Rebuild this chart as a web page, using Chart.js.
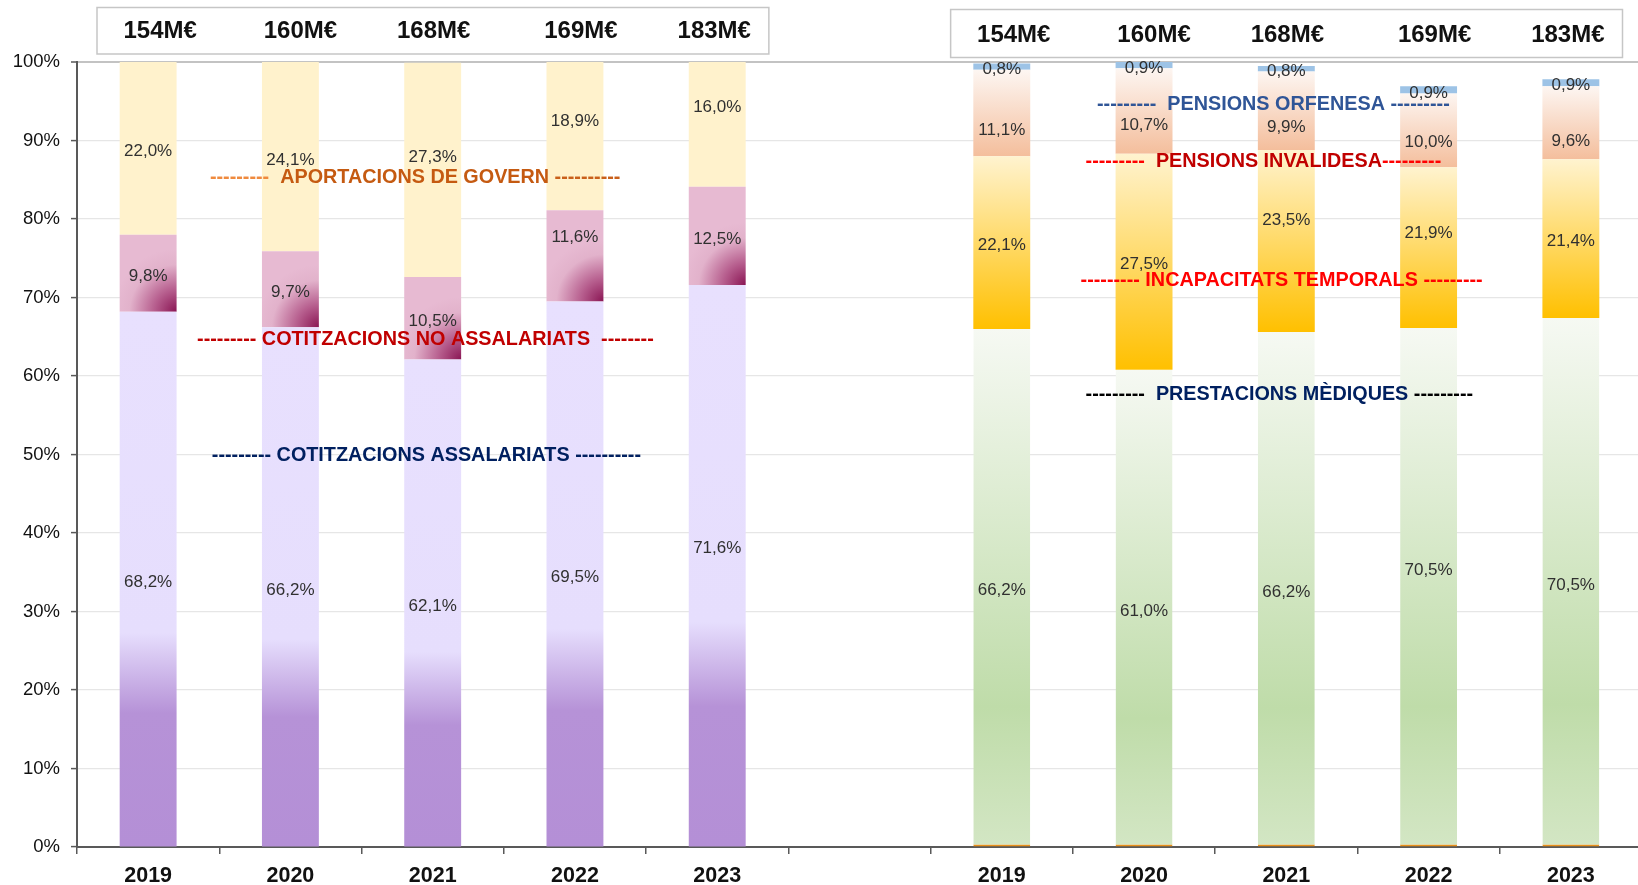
<!DOCTYPE html>
<html><head><meta charset="utf-8">
<script src="https://cdn.jsdelivr.net/npm/chart.js@4.4.1/dist/chart.umd.min.js"></script>
<style>html,body{margin:0;padding:0;background:#fff;overflow:hidden;width:1638px;height:885px;}canvas{display:block;}</style>
</head><body>
<canvas id="c" width="1642" height="885"></canvas>
<script>
const FONT = '"Liberation Sans", Arial, sans-serif';

// ---- data ----
const categories = ['2019','2020','2021','2022','2023','','2019','2020','2021','2022','2023'];
const totals = ['154M€','160M€','168M€','169M€','183M€'];
const yTickValues = [0,10,20,30,40,50,60,70,80,90,100];

// left group (ingressos)
const cotitzacionsAssalariats   = [68.2, 66.2, 62.1, 69.5, 71.6];
const cotitzacionsNoAssalariats = [9.8, 9.7, 10.5, 11.6, 12.5];
const aportacionsGovern         = [22.0, 24.1, 27.3, 18.9, 16.0];

// right group (despeses) - bar heights as drawn
const prestacionsMediques   = [66.0, 60.8, 65.6, 66.1, 67.4];
const incapacitatsTemporals = [22.0, 27.5, 23.2, 20.5, 20.2];
const pensionsInvalidesa    = [11.0, 10.9, 10.0, 9.4, 9.3];
const pensionsOrfenesa      = [0.8, 0.8, 0.7, 0.9, 0.9];

// right group - printed labels
const labelsMediques     = ['66,2%','61,0%','66,2%','70,5%','70,5%'];
const labelsIncapacitats = ['22,1%','27,5%','23,5%','21,9%','21,4%'];
const labelsInvalidesa   = ['11,1%','10,7%','9,9%','10,0%','9,6%'];
const labelsOrfenesa     = ['0,8%','0,9%','0,8%','0,9%','0,9%'];

const seriesNames = ['COTITZACIONS ASSALARIATS','COTITZACIONS NO ASSALARIATS','APORTACIONS DE GOVERN',
  'PRESTACIONS MÈDIQUES','INCAPACITATS TEMPORALS','PENSIONS INVALIDESA','PENSIONS ORFENESA'];

// ---- layout / style (pixels) ----
const labelNudge = [
  [0, 0, 0, 0, -20],
  [0, 0, 0, -22, 0],
  [0, 1, -16, -18, -20],
  [0, 0, 0, -20, 0],
  [0, 0, -24, -17, 0],
  [0, -3, 0, -5, 1],
  [0, 0, 0, 0, 0]
];
const totalOffsets = [12, 10, 1, 6, -3];

// ---- helpers ----
const pad = n => Array(n).fill(null);
const leftData = a => [...a, ...pad(6)];
const rightData = a => [...pad(6), ...a];
const fmt = v => v.toFixed(1).replace('.', ',') + '%';

function segBounds(ctx) {
  const chart = ctx.chart, ds = chart.data.datasets, i = ctx.dataIndex, di = ctx.datasetIndex;
  let base = 0;
  for (let k = 0; k < di; k++) { const v = ds[k].data[i]; if (v != null) base += v; }
  const v = ds[di].data[i] || 0;
  const ys = chart.scales.y, xs = chart.scales.x;
  const step = xs.getPixelForValue(1) - xs.getPixelForValue(0);
  const cx = xs.getPixelForValue(i);
  return { yb: ys.getPixelForValue(base), yt: ys.getPixelForValue(base + v), xl: cx - step * 0.2, xr: cx + step * 0.2 };
}
function linear(stops, fallback) {
  return ctx => {
    if (ctx.type !== 'data' || !ctx.chart.chartArea) return fallback;
    const b = segBounds(ctx);
    if (!isFinite(b.yb) || !isFinite(b.yt) || b.yb === b.yt) return fallback;
    const g = ctx.chart.ctx.createLinearGradient(0, b.yb, 0, b.yt);
    stops.forEach(([o, c]) => g.addColorStop(o, c));
    return g;
  };
}
function radialCorner(stops, fallback) {
  return ctx => {
    if (ctx.type !== 'data' || !ctx.chart.chartArea) return fallback;
    const b = segBounds(ctx);
    if (!isFinite(b.yb) || !isFinite(b.xr)) return fallback;
    const r = (b.xr - b.xl) * 1.1;
    const g = ctx.chart.ctx.createRadialGradient(b.xr, b.yb, 0, b.xr, b.yb, r);
    stops.forEach(([o, c]) => g.addColorStop(o, c));
    return g;
  };
}

const datasets = [
  { label: seriesNames[0], data: leftData(cotitzacionsAssalariats), valueLabels: leftData(cotitzacionsAssalariats.map(fmt)),
    backgroundColor: linear([[0,'#b48fd6'],[0.25,'#b692d7'],[0.40,'#e6defd'],[1,'#e8e0fe']], '#e8e0fe') },
  { label: seriesNames[1], data: leftData(cotitzacionsNoAssalariats), valueLabels: leftData(cotitzacionsNoAssalariats.map(fmt)),
    backgroundColor: radialCorner([[0,'#8a1654'],[0.35,'#b65d8d'],[0.75,'#e2b2cb'],[1,'#e7bad2']], '#e7bad2') },
  { label: seriesNames[2], data: leftData(aportacionsGovern), valueLabels: leftData(aportacionsGovern.map(fmt)),
    backgroundColor: '#fff2cc' },
  { label: seriesNames[3], data: rightData(prestacionsMediques), valueLabels: rightData(labelsMediques),
    backgroundColor: linear([[0,'#d3e6c4'],[0.27,'#bfdca9'],[1,'#f6f9f3']], '#d3e6c4'),
    borderColor: '#e8901a', borderWidth: { top: 0, left: 0, right: 0, bottom: 2 }, borderSkipped: false },
  { label: seriesNames[4], data: rightData(incapacitatsTemporals), valueLabels: rightData(labelsIncapacitats),
    backgroundColor: linear([[0,'#ffc000'],[1,'#fff3cf']], '#ffd966') },
  { label: seriesNames[5], data: rightData(pensionsInvalidesa), valueLabels: rightData(labelsInvalidesa), labelShift: 14,
    backgroundColor: linear([[0,'#f4be9c'],[1,'#fdf6f2']], '#f8d9c6') },
  { label: seriesNames[6], data: rightData(pensionsOrfenesa), valueLabels: rightData(labelsOrfenesa), labelShift: 0,
    backgroundColor: '#9dc3e6' }
];
datasets.forEach(d => { d.stack = 's'; });

// annotation layout: [series index, category position, y value, left dashes, gap left, gap right, right dashes, dash colour L, text colour, dash colour R]
const noteLayout = [
  [2, 1.877, 85.6, 9, '  ', ' ', 10, '#ef8a3e', '#c55a11', '#c9601a'],
  [1, 1.949, 64.9, 9, ' ', '  ', 8, '#c00000', '#c00000', '#c00000'],
  [0, 1.956, 50.1, 9, ' ', ' ', 10, '#002060', '#002060', '#002060'],
  [6, 7.909, 94.8, 9, '  ', ' ', 9, '#2f5597', '#2f5597', '#2f5597'],
  [5, 7.839, 87.6, 9, '  ', '', 9, '#ff0000', '#c00000', '#ff0000'],
  [4, 7.967, 72.4, 9, ' ', ' ', 9, '#ff0000', '#ff0000', '#ff0000'],
  [3, 7.951, 57.9, 9, '  ', ' ', 9, '#000000', '#002060', '#000000']
];

const overlay = {
  id: 'overlay',
  afterDatasetsDraw(chart) {
    const c = chart.ctx, xs = chart.scales.x, ys = chart.scales.y;
    c.save();
    // value labels
    c.font = `17px ${FONT}`;
    c.fillStyle = '#303030';
    c.textAlign = 'center';
    c.textBaseline = 'middle';
    chart.data.datasets.forEach((ds, di) => {
      const meta = chart.getDatasetMeta(di);
      const off = di < 3 ? 0 : 6;
      meta.data.forEach((el, i) => {
        const txt = ds.valueLabels[i];
        if (!txt || ds.data[i] == null) return;
        const p = el.getProps(['x', 'y', 'base'], true);
        const nudge = (labelNudge[di] && labelNudge[di][i - off]) || 0;
        c.fillText(txt, p.x, (p.y + p.base) / 2 + 3 + (ds.labelShift || 0) + nudge);
      });
    });
    // series annotations
    c.font = `bold 19.8px ${FONT}`;
    c.textAlign = 'left';
    noteLayout.forEach(([si, pos, yv, nl, gl, gr, nr, cl, ct, cr]) => {
      const parts = [['-'.repeat(nl) + gl, cl], [seriesNames[si], ct], [gr + '-'.repeat(nr), cr]];
      const total = parts.reduce((s, p) => s + c.measureText(p[0]).width, 0);
      let x = xs.getPixelForValue(pos) - total / 2;
      const y = ys.getPixelForValue(yv) + 2;
      parts.forEach(([t, col]) => { c.fillStyle = col; c.fillText(t, x, y); x += c.measureText(t).width; });
    });
    c.restore();
  },
  afterDraw(chart) {
    const c = chart.ctx, xs = chart.scales.x;
    const step = xs.getPixelForValue(1) - xs.getPixelForValue(0);
    c.save();
    const groups = [[0, 7.5, 54, 31], [6, 9.5, 57.5, 35]];
    groups.forEach(([start, top, bottom, ty]) => {
      const l = xs.getPixelForValue(start) - step / 2 + 20;
      const r = xs.getPixelForValue(start + 4) + step / 2 - 19.5;
      c.fillStyle = '#ffffff';
      c.fillRect(l, top, r - l, bottom - top);
      c.strokeStyle = '#c6c6c6';
      c.lineWidth = 1.5;
      c.strokeRect(l, top, r - l, bottom - top);
      c.fillStyle = '#111';
      c.font = `bold 24px ${FONT}`;
      c.textAlign = 'center';
      c.textBaseline = 'middle';
      totals.forEach((t, k) => c.fillText(t, xs.getPixelForValue(start + k) + totalOffsets[k], ty));
    });
    c.restore();
  }
};

new Chart(document.getElementById('c'), {
  type: 'bar',
  data: { labels: categories, datasets },
  options: {
    responsive: false,
    animation: false,
    events: [],
    layout: { padding: { top: 62, left: 0, right: 0, bottom: 0 } },
    plugins: { legend: { display: false }, tooltip: { enabled: false } },
    datasets: { bar: { barPercentage: 0.4, categoryPercentage: 1.0 } },
    scales: {
      x: {
        stacked: true, offset: true,
        grid: { display: true, drawOnChartArea: false, drawTicks: true, tickLength: 7, color: '#595959', lineWidth: 1.5, offset: true },
        border: { display: true, color: '#595959', width: 2 },
        ticks: { font: { family: FONT, size: 21.5, weight: 'bold' }, color: '#111', padding: 9, maxRotation: 0, autoSkip: false },
        afterFit: s => { s.height = 38; }
      },
      y: {
        stacked: true, min: 0, max: 100,
        afterBuildTicks: s => { s.ticks = yTickValues.map(v => ({ value: v })); },
        ticks: { callback: v => v + '%', font: { family: FONT, size: 18.5 }, color: '#111', padding: 11 },
        grid: {
          color: c => (c.tick && c.tick.value === 100) ? '#c3c3c3' : '#e6e6e6',
          lineWidth: c => (c.tick && c.tick.value === 100) ? 2 : 1.2,
          tickColor: '#595959', tickLength: 6, tickWidth: 1.5, drawTicks: true
        },
        border: { color: '#595959', width: 2 },
        afterFit: s => { s.width = 77; }
      }
    }
  },
  plugins: [overlay]
});
</script>
</body></html>
